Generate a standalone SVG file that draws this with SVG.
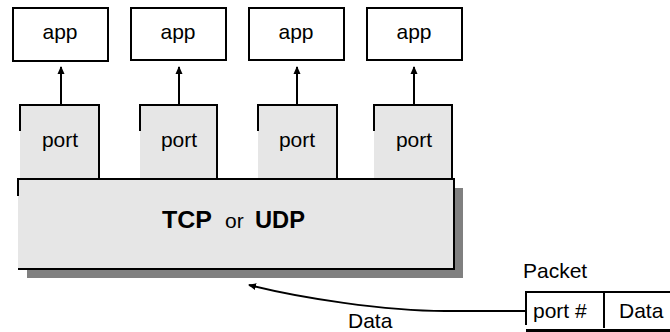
<svg xmlns="http://www.w3.org/2000/svg" width="670" height="332" viewBox="0 0 670 332">
<style>
.box{fill:#ffffff;stroke:#000;stroke-width:2}
.edge{fill:none;stroke:#000;stroke-width:2}
.gray{fill:#e6e6e6;stroke:none}
.t{font-family:"Liberation Sans",Arial,sans-serif;font-size:21px;fill:#000;text-anchor:middle}
.b{font-family:"Liberation Sans",Arial,sans-serif;font-size:24px;font-weight:bold;fill:#000}
.r{font-family:"Liberation Sans",Arial,sans-serif;font-size:21px;fill:#000}
.conn{fill:none;stroke:#000;stroke-width:2}
</style>
<defs>
<marker id="ah" markerWidth="8" markerHeight="8" refX="7" refY="4" orient="auto" markerUnits="userSpaceOnUse">
<path d="M0,0.5 L8,4 L0,7.5 z" fill="#000"/>
</marker>
</defs>
<rect width="670" height="332" fill="#fff"/>
<g id="app1"><rect class="box" x="13" y="8" width="95" height="53"/><text class="t" x="60" y="39">app</text></g>
<g id="app2"><rect class="box" x="131" y="8" width="95" height="52"/><text class="t" x="178" y="39">app</text></g>
<g id="app3"><rect class="box" x="249" y="8" width="95" height="52"/><text class="t" x="296" y="39">app</text></g>
<g id="app4"><rect class="box" x="367" y="8" width="95" height="52"/><text class="t" x="414" y="39">app</text></g>
<g id="port1"><rect class="gray" x="20" y="105" width="79" height="75"/><path class="edge" d="M20,131 V105 H99 V180"/><text class="t" x="60" y="147">port</text></g>
<g id="port2"><rect class="gray" x="140" y="105" width="77" height="75"/><path class="edge" d="M140,131 V105 H217 V180"/><text class="t" x="179" y="147">port</text></g>
<g id="port3"><rect class="gray" x="258" y="105" width="79" height="75"/><path class="edge" d="M258,131 V105 H337 V180"/><text class="t" x="297" y="147">port</text></g>
<g id="port4"><rect class="gray" x="374" y="105" width="78" height="75"/><path class="edge" d="M374,131 V105 H452 V180"/><text class="t" x="414" y="147">port</text></g>
<g id="tcp">
<rect x="27" y="188" width="436" height="90" fill="#808080"/>
<rect class="gray" x="18" y="179" width="436" height="90"/>
<path class="edge" d="M18,196 V179 H454 V269 H18"/>
<text class="b" x="162" y="228" textLength="50" lengthAdjust="spacingAndGlyphs">TCP</text>
<text class="r" x="225" y="228">or</text>
<text class="b" x="255" y="228" textLength="50" lengthAdjust="spacingAndGlyphs">UDP</text>
</g>
<g id="packet">
<text class="r" x="523" y="278">Packet</text>
<path class="edge" d="M526,325 V292 H670"/>
<path class="edge" d="M604,292 V328"/>
<path d="M526,330.5 H670" stroke="#000" stroke-width="3" fill="none"/>
<text class="r" x="533" y="318">port #</text>
<text class="r" x="619" y="318">Data</text>
</g>
<g id="connectors">
<line class="conn" x1="61" y1="105" x2="61" y2="67" marker-end="url(#ah)"/>
<line class="conn" x1="179" y1="105" x2="179" y2="67" marker-end="url(#ah)"/>
<line class="conn" x1="297" y1="105" x2="297" y2="67" marker-end="url(#ah)"/>
<line class="conn" x1="414" y1="105" x2="414" y2="67" marker-end="url(#ah)"/>
<path class="conn" d="M526,311 H445 C385,311 300,298 249,285" marker-end="url(#ah)"/>
<text class="r" x="348" y="328">Data</text>
</g>
</svg>
